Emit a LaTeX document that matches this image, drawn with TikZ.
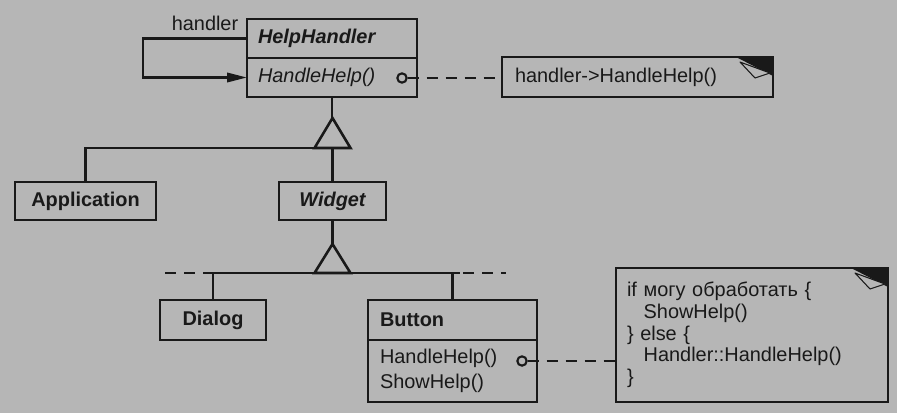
\documentclass[tikz,border=0pt]{standalone}
\usepackage{fontspec}
\setmainfont{Liberation Sans}
\usepackage{tikz}
\usetikzlibrary{arrows.meta,positioning}

\definecolor{paper}{RGB}{182,182,182}
\definecolor{ink}{RGB}{25,25,25}
\newcommand{\dfont}{\fontsize{17}{21}\selectfont}
% folded corner of a note
\newcommand{\dogear}[1]{%
  \fill[ink] (#1.north east) -- ++(-37,0) -- ++(37,19) -- cycle;
  \filldraw[fill=paper, draw=ink, line width=0.9pt, line join=round]
    (#1.north east) ++(-33,5) -- ++(30,11) -- ++(-15,5) -- cycle;}

\begin{document}
\begin{tikzpicture}[x=0.3mm, y=-0.3mm, color=ink, line width=2.2pt,
  cls/.style={draw, anchor=north west, inner sep=0pt, outer sep=0pt,
    minimum height=#1, font=\dfont\bfseries},
  ops/.style={draw, inner sep=0pt, outer sep=0pt, minimum height=#1,
    align=left, font=\dfont},
  note/.style={draw, anchor=north west, inner sep=0pt, outer sep=0pt,
    align=left, font=\dfont},
  dot/.style={circle, draw, line width=1.8pt, inner sep=0pt, minimum size=2.8mm},
  arr/.style={-{Triangle[length=6mm,width=2.8mm]}},
  dashln/.style={dash pattern=on 3.3mm off 2.4mm}
]
\fill[paper] (0,0) rectangle (897,413);

% HelpHandler
\node[cls=11.7mm, minimum width=51mm, text width=44.4mm, inner xsep=3.3mm,
  align=left, font=\dfont\bfseries\itshape] (hhName) at (247,19) {HelpHandler};
\node[ops=11.7mm, minimum width=51mm, text width=44.4mm, inner xsep=3.3mm,
  font=\dfont\itshape, below=0pt of hhName] (hhOps) {HandleHelp()};
\node[font=\dfont] (lblHandler) at (205,23) {handler};
\draw[arr] (hhName.west) -- ++(-104,0) |- (hhOps.west);

\node[dot] (c1) at (402,78) {};
\node[note, minimum width=81.3mm, minimum height=12mm, text width=73.5mm,
  inner xsep=3.9mm] (note1) at (502,57) {handler->HandleHelp()};
\draw[dashln] (c1.east) -- (c1.east -| note1.west);
\dogear{note1}

% first level
\coordinate (gen1) at (332.5,148);
\node[cls=11.4mm, minimum width=42.3mm] (app) at (15,182) {Application};
\node[cls=11.4mm, minimum width=32.1mm, font=\dfont\bfseries\itshape] (widget) at (279,182) {Widget};
\draw (hhOps.south) -- ++(0,21);
\draw[line join=miter] (gen1) ++(-18,0) -- ++(36,0) -- ++(-18,-30) -- cycle;
\draw (app.north) |- (gen1);
\draw (widget.north) -- (gen1);

% second level
\coordinate (gen2) at (332.5,273);
\coordinate (busL) at (205,273);
\coordinate (busR) at (460,273);
\node[cls=12mm, minimum width=31.8mm] (dialog) at (160,300) {Dialog};
\node[cls=12mm, minimum width=50.7mm, text width=43.5mm, inner xsep=3.6mm,
  align=left] (btnName) at (368,300) {Button};
\node[ops=18.6mm, minimum width=50.7mm, text width=43.5mm, inner xsep=3.6mm,
  font=\fontsize{17}{21.3}\selectfont, below=0pt of btnName] (btnOps) {HandleHelp()\\ShowHelp()};
\draw (widget.south) -- ++(0,24);
\draw[line join=miter] (gen2) ++(-18,0) -- ++(36,0) -- ++(-18,-29) -- cycle;
\draw (busL) -- (busR);
\draw[dashln] (busL) ++(-40,0) -- (busL);
\draw[dashln] (busR) ++(3,0) -- ++(43,0);
\draw (dialog.north) -- (dialog.north |- busL);
\draw (btnName.north) -- (btnName.north |- busR);

\node[dot] (c2) at (522,361) {};
\node[note, minimum width=81.6mm, minimum height=40.2mm, text width=75mm,
  inner xsep=3.3mm, font=\fontsize{17}{18.5}\selectfont] (note2) at (616,268)
  {if могу обработать \{\\
   \hspace*{5mm}ShowHelp()\\
   \} else \{\\
   \hspace*{5mm}Handler::HandleHelp()\\
   \}};
\draw[dashln] (c2.east) -- (c2.east -| note2.west);
\dogear{note2}
\end{tikzpicture}
\end{document}
